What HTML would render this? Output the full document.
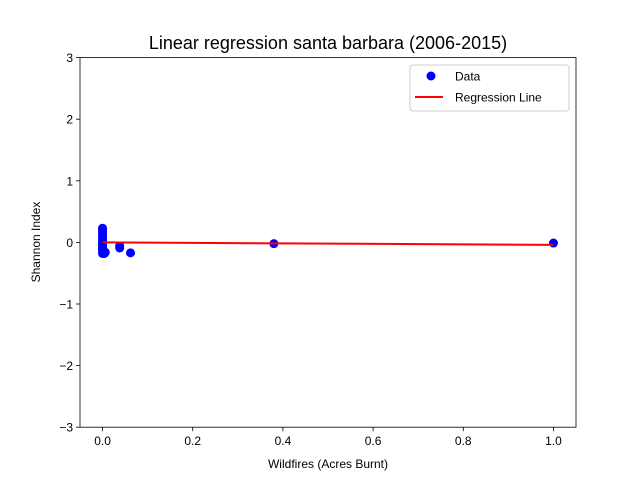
<!DOCTYPE html>
<html><head><meta charset="utf-8"><style>body{margin:0;background:#fff}svg{font-family:"Liberation Sans","DejaVu Sans",sans-serif}</style></head>
<body>
<svg id="c" width="640" height="480" xmlns="http://www.w3.org/2000/svg"></svg>
<script>
const xs=[0,0,0,0,0,0,0,0,0,0,0,0,0,0,0,0.002,0.004,0.006,0.038,0.038,0.062,0.38,1.0];
const ys=[0.23,0.2,0.16,0.12,0.09,0.06,0.03,0.0,-0.03,-0.06,-0.09,-0.12,-0.15,-0.18,-0.1,-0.17,-0.18,-0.16,-0.06,-0.09,-0.17,-0.02,-0.01];
const lineX=[0,1];
const lineY=[0.0,-0.04];
const xTicks=[0,0.2,0.4,0.6,0.8,1.0];
const xTickLabels=["0.0","0.2","0.4","0.6","0.8","1.0"];
const yTicks=[-3,-2,-1,0,1,2,3];
const yTickLabels=["\u22123","\u22122","\u22121","0","1","2","3"];
const L=80,R=576,T=57.6,B=427.2;
const sx=v=>L+(v+0.05)/1.1*(R-L);
const sy=v=>B-(v+3)/6*(B-T);
const svg=document.getElementById('c');
const NS="http://www.w3.org/2000/svg";
function mk(t,a,p){const e=document.createElementNS(NS,t);for(const k in a)e.setAttribute(k,a[k]);(p||svg).appendChild(e);return e;}
const title=mk('text',{x:328,y:49,'text-anchor':'middle','font-size':18});title.textContent="Linear regression santa barbara (2006-2015)";


xTicks.forEach((v,i)=>{const x=sx(v);mk('line',{x1:x,x2:x,y1:B,y2:B+4,stroke:'#000','stroke-width':0.8});
const t=mk('text',{x:x,y:B+18,'text-anchor':'middle','font-size':12});t.textContent=xTickLabels[i];

});
yTicks.forEach((v,i)=>{const y=sy(v);mk('line',{x1:L-4,x2:L,y1:y,y2:y,stroke:'#000','stroke-width':0.8});
const t=mk('text',{x:L-7,y:y+4.5,'text-anchor':'end','font-size':12});t.textContent=yTickLabels[i];

});
const xl=mk('text',{x:328,y:468,'text-anchor':'middle','font-size':12});xl.textContent="Wildfires (Acres Burnt)";


const yl=mk('text',{x:0,y:0,'text-anchor':'middle','font-size':12,transform:`translate(40,242) rotate(-90)`});yl.textContent="Shannon Index";


xs.forEach((v,i)=>{const c=mk('circle',{cx:sx(v),cy:sy(ys[i]),r:4.5,fill:'#0000ff'});

});
const rl=mk('line',{x1:sx(lineX[0]),y1:sy(lineY[0]),x2:sx(lineX[1]),y2:sy(lineY[1]),stroke:'#ff0000','stroke-width':2});


const fr=mk('rect',{x:L,y:T,width:R-L,height:B-T,fill:'none',stroke:'#000','stroke-width':0.8});


const lg=mk('g',{});


mk('rect',{x:410,y:65,width:159,height:46,rx:3,fill:'#fff',stroke:'#ccc','stroke-width':1},lg);
mk('circle',{cx:431,cy:76,r:4.5,fill:'#0000ff'},lg);
const t1=mk('text',{x:455,y:80.5,'font-size':12},lg);t1.textContent="Data";
mk('line',{x1:415,x2:443,y1:97,y2:97,stroke:'#ff0000','stroke-width':2},lg);
const t2=mk('text',{x:455,y:101.5,'font-size':12},lg);t2.textContent="Regression Line";
</script>
</body></html>
